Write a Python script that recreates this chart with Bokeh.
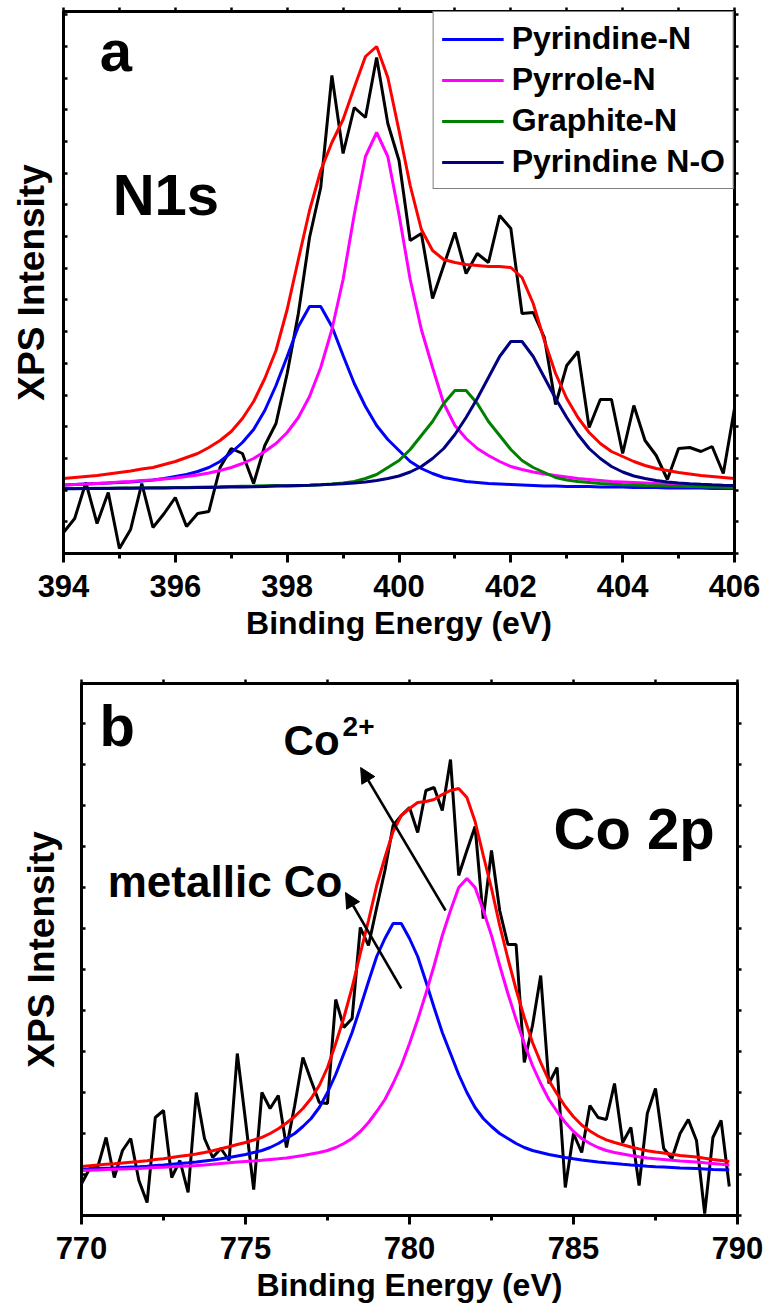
from bokeh.plotting import figure
from bokeh.models import (LinearAxis, FixedTicker, SingleIntervalTicker, Range1d,
                          Legend, LegendItem, Arrow, NormalHead, Label)
from bokeh.embed import file_html
from bokeh.resources import INLINE

FONT = "Liberation Sans"

# ---------------- Panel a : N1s ----------------
energy_a = [394.0, 394.2, 394.4, 394.6, 394.8, 395.0, 395.2, 395.4, 395.6, 395.8,
            396.0, 396.2, 396.4, 396.6, 396.8, 397.0, 397.2, 397.4, 397.6, 397.8,
            398.0, 398.2, 398.4, 398.6, 398.8, 399.0, 399.2, 399.4, 399.6, 399.8,
            400.0, 400.2, 400.4, 400.6, 400.8, 401.0, 401.2, 401.4, 401.6, 401.8,
            402.0, 402.2, 402.4, 402.6, 402.8, 403.0, 403.2, 403.4, 403.6, 403.8,
            404.0, 404.2, 404.4, 404.6, 404.8, 405.0, 405.2, 405.4, 405.6, 405.8,
            406.0]
raw_a = [21, 35, 71, 30, 61, 5, 24, 70, 26, 40,
         56, 27, 40, 42, 86, 105, 100, 70, 108, 130,
         180, 240, 316, 366, 478, 400, 446, 436, 496, 430,
         393, 313, 320, 255, 288, 321, 280, 300, 291, 338,
         325, 240, 241, 216, 149, 188, 202, 126, 154, 154,
         100, 148, 113, 98, 74, 105, 106, 102, 107, 80, 145]
pyridine_n = [68.5, 69, 69.5, 70, 70.5, 71, 71.5, 72.5, 73.5, 75,
              77, 79, 82, 86, 92, 101, 111, 124, 143, 168,
              197, 227, 247, 247, 227, 198, 170, 147, 128, 114,
              103, 92, 85, 80, 76, 74, 72, 71, 70, 69.5,
              69, 68.5, 68, 67.5, 67.5, 67, 67, 67, 66.5, 66.5,
              66.5, 66, 66, 66, 65.5, 65.5, 65.5, 65.5, 65, 65, 65]
pyrrole_n = [68.5, 69, 69.5, 70, 70.5, 71.5, 72, 73, 73.5, 74.5,
             75.5, 77, 78.5, 80.5, 83, 86, 90, 95, 102, 110,
             121, 136, 157, 186, 224, 274, 339, 397, 421, 397,
             339, 274, 224, 186, 150, 128, 115, 105, 98, 92,
             87, 84, 81.5, 79.5, 78, 76.5, 75, 74, 73, 72,
             71.5, 71, 70.5, 70, 69.5, 69, 68.5, 68.2, 68, 67.7, 67.5]
graphite_n = [65, 65, 65.1, 65.2, 65.3, 65.4, 65.5, 65.6, 65.7, 65.8,
              66, 66.1, 66.3, 66.5, 66.7, 67, 67.2, 67.4, 67.7, 68,
              67.5, 67.8, 68.2, 68.8, 69.5, 70.5, 72, 75, 79, 86,
              93, 104, 118, 132, 150, 163, 163, 150, 132, 118,
              104, 93, 86, 81, 76, 73.5, 72, 71, 70, 69.3,
              68.8, 68.4, 68, 67.7, 67.4, 67.2, 67, 66.7, 66.5, 66.3, 66.1]
pyridine_no = [64.8, 64.8, 64.9, 65, 65.1, 65.2, 65.3, 65.4, 65.5, 65.6,
               65.7, 65.8, 65.9, 66, 66.2, 66.4, 66.6, 66.8, 67.1, 67.4,
               67.7, 68, 68.3, 68.7, 69.2, 69.8, 70.5, 71.5, 73, 75,
               77.5, 81.5, 87, 95, 105, 119, 136, 155, 176, 197,
               212, 212, 197, 176, 155, 136, 119, 105, 95, 87,
               81.5, 77.5, 75, 73, 71.5, 70.5, 69.8, 69.2, 68.7, 68.3, 68]
envelope_a = [75, 76, 77, 78, 79.5, 81, 82.5, 84.5, 86, 89,
              92, 96, 100, 106, 113, 122, 135, 152, 175, 203,
              244, 294, 343, 383, 411, 434, 466, 497, 507, 476,
              423, 368, 324, 303, 294, 291, 289, 288, 287, 287,
              286, 276, 250, 213, 180, 155, 136, 121, 110, 102,
              97, 92, 88, 85, 83, 81, 79.5, 78, 77, 76, 75]
ticks_a = [394, 396, 398, 400, 402, 404, 406]
minor_a = [395, 397, 399, 401, 403, 405]
top_ticks_a = [394, 395, 396, 397, 398, 399, 400, 401, 402, 403, 404, 405, 406]

# ---------------- Panel b : Co 2p ----------------
energy_b = [770.0, 770.25, 770.5, 770.75, 771.0, 771.25, 771.5, 771.75,
            772.0, 772.25, 772.5, 772.75, 773.0, 773.25, 773.5, 773.75,
            774.0, 774.25, 774.5, 774.75, 775.0, 775.25, 775.5, 775.75,
            776.0, 776.25, 776.5, 776.75, 777.0, 777.25, 777.5, 777.75,
            778.0, 778.25, 778.5, 778.75, 779.0, 779.25, 779.5, 779.75,
            780.0, 780.25, 780.5, 780.75, 781.0, 781.25, 781.5, 781.75,
            782.0, 782.25, 782.5, 782.75, 783.0, 783.25, 783.5, 783.75,
            784.0, 784.25, 784.5, 784.75, 785.0, 785.25, 785.5, 785.75,
            786.0, 786.25, 786.5, 786.75, 787.0, 787.25, 787.5, 787.75,
            788.0, 788.25, 788.5, 788.75, 789.0, 789.25, 789.5, 789.75]
raw_b = [31.7, 47, 49, 78, 38, 65, 77, 35, 13, 98,
         105, 38, 55, 23, 123, 77, 58, 67, 55, 162,
         95, 26, 123, 107, 120, 68, 110, 158, 135, 113,
         112, 216, 188, 197, 288, 270, 308, 345, 390, 400,
         408, 383, 425, 428, 405, 456, 340, 365, 389, 297,
         365, 305, 271, 271, 153, 190, 240, 132, 148, 28,
         82, 63, 110, 98, 96, 132, 73, 88, 30, 102,
         127, 67, 57, 82, 96, 75, 2, 78, 95, 29]
metallic_co = [46, 46.5, 47, 47.3, 47.6, 48, 48.4, 48.8, 49.3, 49.9,
               50.5, 51.2, 52, 52.7, 53.5, 54.5, 55.5, 56.7, 58, 59.5,
               61, 63, 65, 68, 72, 77, 82, 89, 97, 108,
               123, 141, 162, 183, 208, 234, 259, 277, 292, 292,
               277, 259, 234, 208, 183, 162, 141, 123, 108, 97,
               89, 82, 77, 72, 68, 65, 63, 61, 59.5, 58,
               56.7, 55.5, 54.5, 53.5, 52.7, 52, 51.2, 50.5, 49.9, 49.3,
               48.8, 48.4, 48, 47.6, 47.3, 47, 46.5, 46, 45.8, 45.5]
co2_plus = [45, 45.3, 45.6, 45.9, 46.2, 46.5, 46.8, 47.1, 47.5, 48,
            48.3, 48.7, 49.2, 49.6, 50, 50.5, 51.2, 52, 52.7, 53.5,
            54, 54.5, 55.2, 56, 56.7, 57.5, 58.7, 60, 61.5, 63,
            65, 68, 72, 77, 84, 93, 104, 116, 132, 150,
            172, 196, 222, 250, 280, 305, 328, 337, 328, 305,
            280, 250, 222, 196, 172, 150, 132, 116, 104, 93,
            84, 77, 72, 68, 65, 63, 61.5, 60, 58.7, 57.5,
            56.7, 56, 55.2, 54.5, 54, 53.5, 52.7, 52, 51.2, 50.5]
envelope_b = [49, 49.8, 50.6, 51.2, 51.8, 52.5, 53.2, 53.9, 54.8, 55.9,
              56.8, 57.9, 59.2, 60.3, 61.5, 63, 64.7, 66.7, 68.7, 71,
              73, 75.5, 78.2, 82, 86.7, 92.5, 99, 107, 117, 130,
              148, 172, 198, 228, 262, 295, 330, 358, 384, 400,
              407, 413, 414, 416, 421, 425, 427, 418, 394, 360,
              327, 290, 257, 226, 198, 173, 153, 135, 121.5, 109,
              98.7, 90.5, 84.5, 79.5, 75.7, 73, 70.7, 68.5, 66.6, 64.8,
              63.5, 62.4, 61.2, 60.1, 59.3, 58.5, 57.2, 56, 55, 54]
ticks_b = [770, 775, 780, 785, 790]
minor_b = [772.5, 777.5, 782.5, 787.5]
top_ticks_b = [770, 772.5, 775, 777.5, 780, 782.5, 785, 787.5, 790]


def make_fig(height, xr, yr, bl, br, bt, bb):
    p = figure(width=766, height=height, x_range=Range1d(*xr), y_range=Range1d(*yr),
               output_backend="svg", toolbar_location=None,
               min_border_left=bl, min_border_right=br,
               min_border_top=bt, min_border_bottom=bb)
    p.xgrid.visible = False
    p.ygrid.visible = False
    p.outline_line_color = "black"
    p.outline_line_width = 3
    p.outline_line_alpha = 1.0
    p.background_fill_color = "white"
    p.border_fill_color = "white"
    return p


def hide_labels(ax):
    ax.major_label_text_font_size = "1px"
    ax.major_label_text_color = None
    ax.major_label_standoff = 0


def style_axes(p, major, minor, top_ticks, y_interval, ylab_standoff):
    xa = p.xaxis[0]
    xa.ticker = FixedTicker(ticks=major, minor_ticks=minor)
    xa.axis_label = "Binding Energy (eV)"
    xa.axis_label_text_font = FONT
    xa.axis_label_text_font_style = "bold"
    xa.axis_label_text_font_size = "32px"
    xa.axis_label_text_color = "black"
    xa.axis_label_standoff = 5
    xa.major_label_text_font = FONT
    xa.major_label_text_font_style = "bold"
    xa.major_label_text_font_size = "31px"
    xa.major_label_text_color = "black"
    xa.major_label_standoff = 12
    xa.axis_line_width = 3
    xa.major_tick_line_width = 3
    xa.minor_tick_line_width = 3
    xa.major_tick_out = 9
    xa.major_tick_in = 0
    xa.minor_tick_out = 5
    xa.minor_tick_in = 0

    ya = p.yaxis[0]
    ya.ticker = SingleIntervalTicker(interval=y_interval, num_minor_ticks=0)
    ya.axis_label = "XPS Intensity"
    ya.axis_label_text_font = FONT
    ya.axis_label_text_font_style = "bold"
    ya.axis_label_text_font_size = "37px"
    ya.axis_label_text_color = "black"
    ya.axis_label_standoff = ylab_standoff
    hide_labels(ya)
    ya.axis_line_width = 3
    ya.major_tick_line_width = 2.5
    ya.major_tick_in = 4
    ya.major_tick_out = 0
    ya.minor_tick_in = 0
    ya.minor_tick_out = 0

    top = LinearAxis(ticker=FixedTicker(ticks=top_ticks),
                     axis_line_width=3, major_tick_line_width=2.5,
                     major_tick_in=0, major_tick_out=4,
                     minor_tick_in=0, minor_tick_out=0)
    hide_labels(top)
    p.add_layout(top, "above")
    right = LinearAxis(ticker=SingleIntervalTicker(interval=y_interval, num_minor_ticks=0),
                       axis_line_width=3, major_tick_line_width=2.5,
                       major_tick_in=0, major_tick_out=4,
                       minor_tick_in=0, minor_tick_out=0)
    hide_labels(right)
    p.add_layout(right, "right")


def add_text(p, x, y, text, size):
    p.add_layout(Label(x=x, y=y, text=text, text_font=FONT, text_font_style="bold",
                       text_font_size=size, text_color="black",
                       text_align="left", text_baseline="alphabetic"))


# ---- Panel a
pa = make_fig(655, (394, 406), (0, 542), 63, 32, 11, 102)
style_axes(pa, ticks_a, minor_a, top_ticks_a, 31.7, 12)
pa.line(energy_a, raw_a, line_color="black", line_width=3)
r1 = pa.line(energy_a, pyridine_n, line_color="#0000FF", line_width=3)
r2 = pa.line(energy_a, pyrrole_n, line_color="#FF00FF", line_width=3)
r3 = pa.line(energy_a, graphite_n, line_color="#008000", line_width=3)
r4 = pa.line(energy_a, pyridine_no, line_color="#000080", line_width=3)
pa.line(energy_a, envelope_a, line_color="#FF0000", line_width=3)

legend = Legend(items=[LegendItem(label="Pyrindine-N", renderers=[r1]),
                       LegendItem(label="Pyrrole-N", renderers=[r2]),
                       LegendItem(label="Graphite-N", renderers=[r3]),
                       LegendItem(label="Pyrindine N-O", renderers=[r4])],
                location="top_right", margin=0, padding=8, spacing=4,
                glyph_width=62, glyph_height=34, label_height=34, label_standoff=8,
                label_text_font=FONT, label_text_font_style="bold",
                label_text_font_size="32px", label_text_color="black",
                border_line_color="black", border_line_width=1,
                background_fill_color="white", background_fill_alpha=1.0)
pa.add_layout(legend)

add_text(pa, 394.65, 503, "a", "58px")
add_text(pa, 394.88, 359, "N1s", "58px")

# ---- Panel b
pb = make_fig(651, (770, 790), (0, 532), 81, 29, 28, 91)
style_axes(pb, ticks_b, minor_b, top_ticks_b, 41, 20)
pb.line(energy_b, raw_b, line_color="black", line_width=3)
pb.line(energy_b, metallic_co, line_color="#0000FF", line_width=3)
pb.line(energy_b, co2_plus, line_color="#FF00FF", line_width=3)
pb.line(energy_b, envelope_b, line_color="#FF0000", line_width=3)

pb.add_layout(Arrow(end=NormalHead(size=15, fill_color="black", line_color="black"),
                    x_start=781.10, y_start=305, x_end=778.51, y_end=448,
                    line_color="black", line_width=2.5))
pb.add_layout(Arrow(end=NormalHead(size=15, fill_color="black", line_color="black"),
                    x_start=779.75, y_start=227, x_end=778.05, y_end=323,
                    line_color="black", line_width=2.5))

add_text(pb, 770.55, 490, "b", "58px")
add_text(pb, 776.16, 475, "Co", "42px")
add_text(pb, 777.96, 489, "2+", "28px")
add_text(pb, 770.8, 334, "metallic Co", "44px")
add_text(pb, 784.39, 387, "Co 2p", "58px")

open("out.html", "w").write(file_html([pa, pb], INLINE))
